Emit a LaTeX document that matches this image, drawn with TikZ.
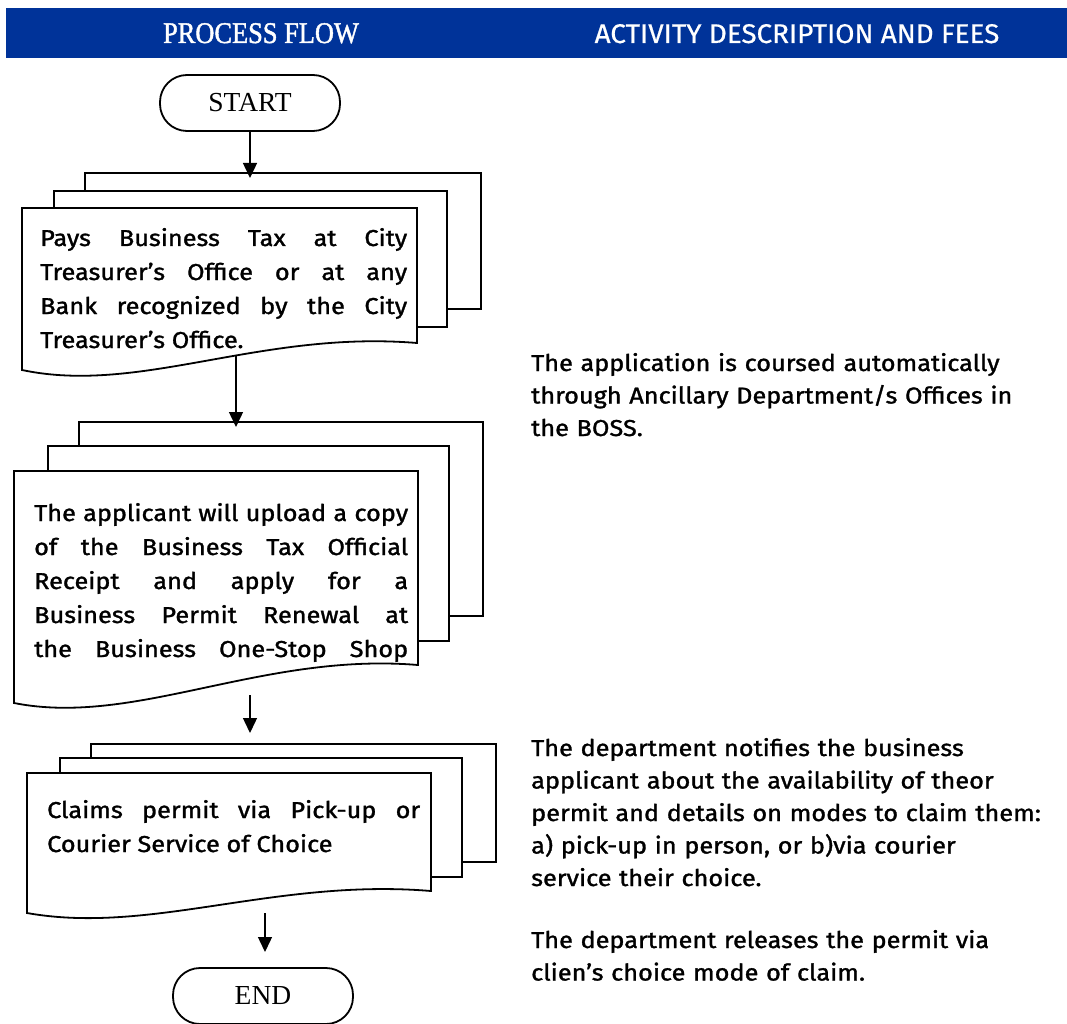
\documentclass[tikz,border=0pt]{standalone}
\usepackage{fontspec}
\setmainfont[FakeStretch=1.1,FakeBold=1.3]{Fira Sans}
\newfontfamily\termfont{Liberation Serif}
\newfontfamily\headserif[FakeStretch=0.88,FakeBold=1.4]{Liberation Serif}
\newfontfamily\headsans[FakeStretch=1.03,FakeBold=0.6]{Fira Sans}
\usetikzlibrary{arrows.meta}
\definecolor{bandblue}{RGB}{0,51,153}
\begin{document}
\begin{tikzpicture}[x=1pt,y=-1pt,
  sheet/.style={draw=black,line width=1.8pt,fill=white,line join=miter},
  terminal/.style={draw=black,line width=1.8pt,rounded corners=27pt,
    minimum height=56pt,inner sep=0pt,font=\termfont\fontsize{27.5}{30}\selectfont},
  arr/.style={draw=black,line width=1.4pt,-{Triangle[length=15pt,width=14pt]}},
  boxtext/.style={anchor=base west,inner sep=0pt,align=justify,
    font=\fontsize{23}{34}\selectfont},
  sidetext/.style={anchor=base west,inner sep=0pt,align=left,text width=530pt,
    font=\fontsize{23}{32.5}\selectfont},
  headtext/.style={text=white,inner sep=0pt,anchor=base}]
\useasboundingbox (0,0) rectangle (1067,1024);

% header band
\fill[bandblue] (6,8) rectangle (1067,58);
\node[headtext,font=\headserif\fontsize{30}{30}\selectfont] (hflow) at (261,43) {PROCESS FLOW};
\node[headtext,font=\headsans\fontsize{27}{30}\selectfont] (hdesc) at (797,43) {ACTIVITY DESCRIPTION AND FEES};

% start terminal
\node[terminal,minimum width=180pt] (start) at (250,103) {START};

% first document stack
\draw[sheet] (85,173) rectangle (481,309);
\draw[sheet] (54,191) rectangle (447,327);
\draw[sheet] (22,208) -- (417,208) -- (417,343)
  .. controls (260,330) and (140,395) .. (22,370) -- cycle;
\node[boxtext,text width=367pt] (pay) at (40,246)
  {Pays Business Tax at City\linebreak Treasurer’s Office or at any\linebreak Bank recognized by the City\linebreak Treasurer’s Office.};

% second document stack
\draw[sheet] (79,422) rectangle (483,616);
\draw[sheet] (48,446) rectangle (449,641);
\draw[sheet] (14,471) -- (418,471) -- (418,665)
  .. controls (262,652) and (135,727) .. (14,703) -- cycle;
\node[boxtext,text width=374pt] (upload) at (34,521)
  {\parfillskip=0pt The applicant will upload a copy\linebreak of the Business Tax Official\linebreak Receipt and apply for a\linebreak Business Permit Renewal at\linebreak the Business One-Stop Shop\par};

% third document stack
\draw[sheet] (91,744) rectangle (496,862);
\draw[sheet] (60,758) rectangle (462,877);
\draw[sheet] (27,773) -- (431,773) -- (431,891)
  .. controls (275,878) and (150,935) .. (27,913) -- cycle;
\node[boxtext,text width=373pt] (claim) at (47,818)
  {Claims permit via Pick-up or\linebreak Courier Service of Choice};

% end terminal
\node[terminal,minimum width=180pt] (end) at (263,996) {END};

% connectors
\coordinate (in1) at (250,178);
\coordinate (out1) at (236,355);
\coordinate (in2) at (236,427);
\coordinate (out2) at (250,695);
\coordinate (in3) at (250,733);
\coordinate (out3) at (265,913);
\coordinate (in4) at (265,952);
\draw[arr] (start.south) -- (in1);
\draw[arr] (out1) -- (in2);
\draw[arr] (out2) -- (in3);
\draw[arr] (out3) -- (in4);

% activity descriptions
\node[sidetext] (desc1) at (531,371)
  {The application is coursed automatically\\through Ancillary Department/s Offices in\\the BOSS.};
\node[sidetext] (desc2) at (531,756)
  {The department notifies the business\\applicant about the availability of theor\\permit and details on modes to claim them:\\a) pick-up in person, or b)via courier\\service their choice.};
\node[sidetext] (desc3) at (531,948)
  {The department releases the permit via\\clien’s choice mode of claim.};
\end{tikzpicture}
\end{document}
